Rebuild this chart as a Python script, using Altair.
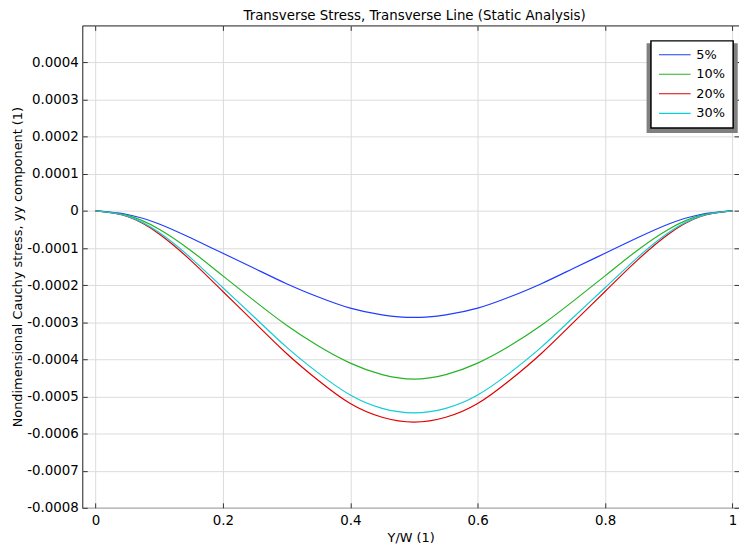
import altair as alt
import pandas as pd

# ---- data ----
x_pos = [0.0, 0.05, 0.10, 0.15, 0.20, 0.25, 0.30, 0.35, 0.40, 0.45, 0.50,
         0.55, 0.60, 0.65, 0.70, 0.75, 0.80, 0.85, 0.90, 0.95, 1.0]

s5 = [0, -0.0000095, -0.000035, -0.000073, -0.000114, -0.000155, -0.000196,
      -0.000232, -0.000262, -0.000280, -0.000287, -0.000280, -0.000262,
      -0.000232, -0.000196, -0.000155, -0.000114, -0.000073, -0.000035,
      -0.0000095, 0]
s10 = [0, -0.000012, -0.000049, -0.000107, -0.000175, -0.000243, -0.000308,
       -0.000364, -0.000410, -0.000441, -0.000453, -0.000441, -0.000410,
       -0.000364, -0.000308, -0.000243, -0.000175, -0.000107, -0.000049,
       -0.000012, 0]
s20 = [0, -0.000015, -0.000062, -0.000134, -0.000217, -0.000301, -0.000384,
       -0.000457, -0.000519, -0.000556, -0.000569, -0.000556, -0.000519,
       -0.000457, -0.000384, -0.000301, -0.000217, -0.000134, -0.000062,
       -0.000015, 0]
s30 = [0, -0.000014, -0.000058, -0.000127, -0.000207, -0.000287, -0.000367,
       -0.000437, -0.000496, -0.000532, -0.000544, -0.000532, -0.000496,
       -0.000437, -0.000367, -0.000287, -0.000207, -0.000127, -0.000058,
       -0.000014, 0]

series_names = ["5%", "10%", "20%", "30%"]
series_colors = ["#1f3cff", "#25b425", "#e00000", "#12ccd6"]

x_ticks = [0, 0.2, 0.4, 0.6, 0.8, 1]
y_ticks = [-0.0008, -0.0007, -0.0006, -0.0005, -0.0004, -0.0003, -0.0002,
           -0.0001, 0, 0.0001, 0.0002, 0.0003, 0.0004]

title_text = "Transverse Stress, Transverse Line (Static Analysis)"
x_title = "Y/W (1)"
y_title = "Nondimensional Cauchy stress, yy component (1)"

rows = []
for name, vals in zip(series_names, [s5, s10, s20, s30]):
    for xv, yv in zip(x_pos, vals):
        rows.append({"series": name, "x": xv, "value": yv})
df = pd.DataFrame(rows)

FONT = "DejaVu Sans"
W, H = 663, 487
xs = alt.Scale(domain=[-0.0207, 1.0103], nice=False, zero=False)
ys = alt.Scale(domain=[-0.0008, 0.0005], nice=False, zero=False)

y_label_expr = "replace(format(datum.value, '.4~f'), '\u2212', '-')"

lines = alt.Chart(df).mark_line(interpolate="natural", strokeWidth=1.2, clip=True).encode(
    x=alt.X("x:Q", scale=xs, axis=alt.Axis(
        orient="bottom", values=x_ticks, format="~g", title=x_title, grid=True,
        tickSize=5, offset=-5, domain=False, labelPadding=5.5, titlePadding=5)),
    y=alt.Y("value:Q", scale=ys, axis=alt.Axis(
        orient="left", values=y_ticks, labelExpr=y_label_expr, title=y_title,
        grid=True, tickSize=5, offset=-5, domain=False, labelPadding=4,
        titlePadding=2.5)),
    color=alt.Color("series:N", sort=series_names,
                    scale=alt.Scale(domain=series_names, range=series_colors),
                    legend=alt.Legend(
                        title=None, orient="none", legendX=574.1, legendY=15.6,
                        fillColor="white", strokeColor="black", padding=7.5,
                        symbolType="M-1.18,0H5.22", symbolSize=100,
                        symbolStrokeWidth=1.2, labelOffset=25.3, rowPadding=5.7,
                        labelFont=FONT, labelFontSize=13, labelColor="black")),
)

frame = alt.Chart(df).mark_point(opacity=0, size=1).encode(
    x=alt.X("x:Q", scale=xs, axis=alt.Axis(
        orient="top", values=x_ticks, labels=False, title=None, grid=False,
        tickSize=5, offset=-5, domain=False)),
    y=alt.Y("value:Q", scale=ys, axis=alt.Axis(
        orient="right", values=y_ticks, labels=False, title=None, grid=False,
        tickSize=5, offset=-5, domain=False)),
)

shadow = alt.Chart(pd.DataFrame({"k": [0]})).mark_rect(color="#808080").encode(
    x=alt.value(569.7), x2=alt.value(661.7), y=alt.value(18), y2=alt.value(108.5)
)

title = alt.Chart(pd.DataFrame({"t": [title_text]})).mark_text(
    font=FONT, fontSize=13.5, color="black", align="center", baseline="alphabetic"
).encode(text="t:N", x=alt.value(335.5), y=alt.value(-5.5))

chart = alt.layer(shadow, lines, frame, title).resolve_axis(
    x="independent", y="independent"
).properties(
    width=W, height=H,
    autosize=alt.AutoSizeParams(type="none"),
    padding={"left": 75, "top": 15, "right": 0, "bottom": 40},
).configure_view(
    stroke="#1a1a1a", strokeWidth=1
).configure_axis(
    labelFont=FONT, labelFontSize=13.5, labelColor="black",
    titleFont=FONT, titleFontSize=13, titleFontWeight="normal", titleColor="black",
    tickColor="#333333", tickWidth=1, gridColor="#dcdcdc", gridWidth=1,
).configure_legend(
    strokeWidth=1.5, cornerRadius=0
)

chart.save("out.html", embed_options={"renderer": "svg", "actions": False})
